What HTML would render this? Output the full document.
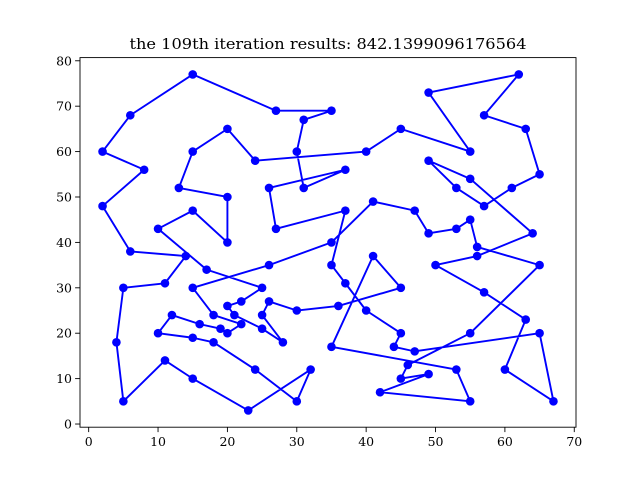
<!DOCTYPE html>
<html><head><meta charset="utf-8"><style>
body{margin:0;background:#fff}
svg{display:block;font-family:"DejaVu Serif","Liberation Serif",serif}
</style></head><body>
<svg id="chart" width="640" height="480" viewBox="0 0 640 480" xmlns="http://www.w3.org/2000/svg">
<rect width="640" height="480" fill="#fff"/>
<text x="328" y="49" text-anchor="middle" font-size="14.5" textLength="397" lengthAdjust="spacingAndGlyphs">the 109th iteration results: 842.1399096176564</text>
<g id="marks"></g>
<g id="axes"></g>
</svg>
<script>
const routeX = [15,27,35,31,30,31,37,26,27,37,35,37,40,45,44,47,65,67,60,63,57,50,56,64,55,49,53,57,61,65,63,57,62,49,55,45,40,24,20,15,13,20,20,15,10,17,25,22,20,21,25,28,25,26,30,36,45,41,35,53,55,42,49,45,46,55,65,56,55,53,49,47,41,35,26,15,18,22,20,19,16,12,10,15,18,24,30,32,23,15,11,5,4,5,11,14,6,2,8,2,6];
const routeY = [77,69,69,67,60,52,56,52,43,47,35,31,25,20,17,16,20,5,12,23,29,35,37,42,54,58,52,48,52,55,65,68,77,73,60,65,60,58,65,60,52,50,40,47,43,34,30,27,26,24,21,18,24,27,25,26,30,37,17,12,5,7,11,10,13,20,35,39,45,43,42,47,49,40,35,30,24,22,20,21,22,24,20,19,18,12,5,12,3,10,14,5,18,30,31,37,38,48,56,60,68];
const xTicks = [0,10,20,30,40,50,60,70];
const yTicks = [0,10,20,30,40,50,60,70,80];

const L=80,R=576,T=57.6,B=427.2;
const xMin=-1.25,xMax=70.25,yMin=-0.7,yMax=80.7;
function sx(v){return L+(v-xMin)/(xMax-xMin)*(R-L);}
function sy(v){return B-(v-yMin)/(yMax-yMin)*(B-T);}
const NS="http://www.w3.org/2000/svg";
const marks=document.getElementById('marks');
const axes=document.getElementById('axes');

let pts=routeX.map((x,i)=>sx(x).toFixed(2)+","+sy(routeY[i]).toFixed(2));
pts.push(pts[0]);
const line=document.createElementNS(NS,'polyline');


line.setAttribute('points',pts.join(' '));
line.setAttribute('fill','none');line.setAttribute('stroke','#0000ff');line.setAttribute('stroke-width','1.9');line.setAttribute('stroke-linejoin','round');
marks.appendChild(line);
routeX.forEach((x,i)=>{
  const c=document.createElementNS(NS,'circle');
  
  
  c.setAttribute('cx',sx(x));c.setAttribute('cy',sy(routeY[i]));c.setAttribute('r','4.3');c.setAttribute('fill','#0000ff');
  marks.appendChild(c);
});

const frame=document.createElementNS(NS,'rect');


frame.setAttribute('x',L);frame.setAttribute('y',T);frame.setAttribute('width',R-L);frame.setAttribute('height',B-T);
frame.setAttribute('fill','none');frame.setAttribute('stroke','#000');frame.setAttribute('stroke-width','0.9');
axes.appendChild(frame);

xTicks.forEach(t=>{
  const x=sx(t);
  const tk=document.createElementNS(NS,'line');
  
  
  tk.setAttribute('x1',x);tk.setAttribute('x2',x);tk.setAttribute('y1',B);tk.setAttribute('y2',B+4.9);tk.setAttribute('stroke','#000');tk.setAttribute('stroke-width','0.9');
  axes.appendChild(tk);
  const lb=document.createElementNS(NS,'text');
  
  
  lb.setAttribute('x',x);lb.setAttribute('y',B+19);lb.setAttribute('text-anchor','middle');lb.setAttribute('font-size','12.5');
  lb.textContent=t;axes.appendChild(lb);
});
yTicks.forEach(t=>{
  const y=sy(t);
  const tk=document.createElementNS(NS,'line');
  
  
  tk.setAttribute('x1',L-4.9);tk.setAttribute('x2',L);tk.setAttribute('y1',y);tk.setAttribute('y2',y);tk.setAttribute('stroke','#000');tk.setAttribute('stroke-width','0.9');
  axes.appendChild(tk);
  const lb=document.createElementNS(NS,'text');
  
  
  lb.setAttribute('x',L-8);lb.setAttribute('y',y+4.5);lb.setAttribute('text-anchor','end');lb.setAttribute('font-size','12.5');
  lb.textContent=t;axes.appendChild(lb);
});
</script>
</body></html>
